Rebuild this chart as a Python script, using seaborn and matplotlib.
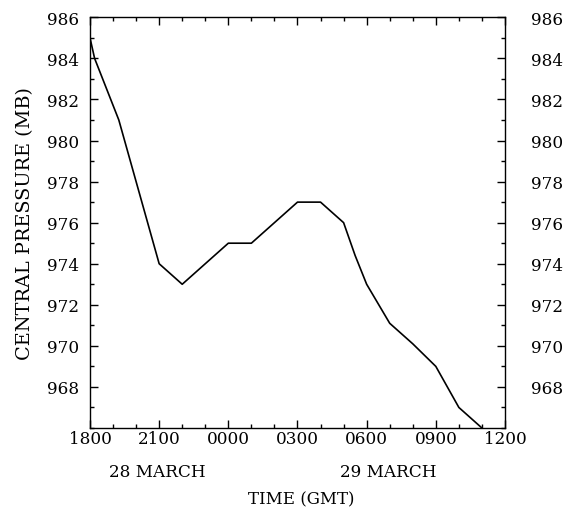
import matplotlib
matplotlib.use('Agg')
import matplotlib.pyplot as plt
from matplotlib.ticker import MultipleLocator
from matplotlib.transforms import ScaledTranslation
import seaborn as sns
import pandas as pd

# hours after 1800 GMT on 28 March
hours = [0, 0.2, 1.25, 3, 4, 6, 7, 9, 10, 11, 11.5, 12, 13, 14, 15, 16, 17]
pressure = [985, 984, 981, 974, 973, 975, 975, 977, 977, 976, 974.4, 973, 971.1, 970.1, 969, 967, 966]

time_ticks = [0, 3, 6, 9, 12, 15, 18]
time_labels = ['1800', '2100', '0000', '0300', '0600', '0900', '1200']
day_labels = ['28 MARCH', '29 MARCH']
day_pos = [2.93, 12.95]

track = pd.DataFrame({'hours': hours, 'pressure': pressure})

sns.set_style('ticks')
plt.rcParams['font.family'] = ['DejaVu Serif']
plt.rcParams['text.color'] = 'black'
plt.rcParams['axes.labelcolor'] = 'black'

fig = plt.figure(figsize=(5.71, 5.10), dpi=100)
ax = fig.add_axes([0.1576, 0.1588, 0.7268, 0.8053])

sns.lineplot(data=track, x='hours', y='pressure', color='black', linewidth=1.2, ax=ax)

ax.set_xlim(0, 18)
ax.set_ylim(966, 986)
ax.set_xticks(time_ticks)
ax.set_xticklabels(time_labels)
ax.xaxis.set_minor_locator(MultipleLocator(1))
ax.set_yticks(range(968, 987, 2))
ax.yaxis.set_minor_locator(MultipleLocator(1))
ax.tick_params(which='both', direction='in', top=True, right=True,
               labelright=True, labelsize=12.2, colors='black', width=1)
ax.tick_params(which='major', length=6)
ax.tick_params(which='minor', length=3)
ax.tick_params(axis='x', which='major', pad=1.5)
ax.tick_params(axis='y', which='major', pad=8)
for s in ax.spines.values():
    s.set_color('black')
    s.set_linewidth(1)

# right-hand labels sit further from the frame
offset = ScaledTranslation(11 / 72, 0, fig.dpi_scale_trans)
for tick in ax.yaxis.get_major_ticks():
    tick.label2.set_transform(tick.label2.get_transform() + offset)

ax.set_xlabel('')
ax.set_ylabel('CENTRAL PRESSURE (MB)', fontsize=13.9, labelpad=9)
for lbl, p in zip(day_labels, day_pos):
    ax.text(p, -0.105, lbl, transform=ax.get_xaxis_transform(), ha='center', va='center', fontsize=12.2)
ax.text(9.15, -0.173, 'TIME (GMT)', transform=ax.get_xaxis_transform(), ha='center', va='center', fontsize=12)

fig.savefig('out.png', dpi=100)
